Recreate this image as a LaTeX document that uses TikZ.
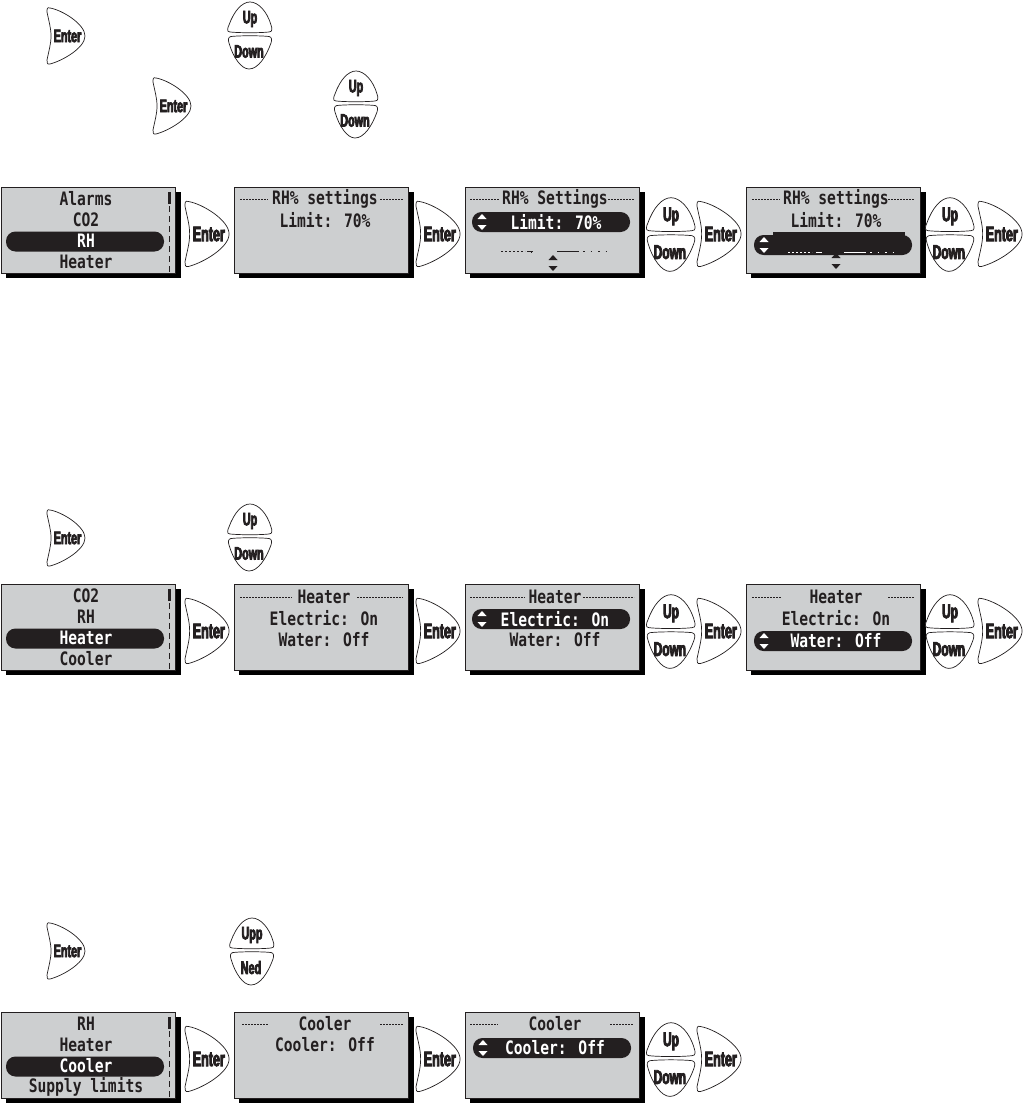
\documentclass[tikz,border=0pt]{standalone}
\usepackage{fontspec}
\newfontfamily\lcdf[FakeStretch=0.79]{DejaVu Sans Mono Bold}
\newfontfamily\btnf[FakeStretch=0.6,FakeBold=4]{Liberation Sans Bold}
\definecolor{lcdgrey}{HTML}{CDCFD0}
\definecolor{inkblack}{HTML}{231F20}
\tikzset{
  lcdtxt/.style={font=\lcdf\fontsize{18.5}{18.5}\selectfont,text=inkblack,inner sep=0pt,anchor=center},
  pilltxt/.style={lcdtxt,text=white},
  btntxt/.style={font=\btnf\fontsize{18}{18}\selectfont,text=inkblack,inner sep=0pt,transform shape,anchor=center},
  btnline/.style={draw=inkblack,fill=white,line width=0.7pt},
  pillbar/.style={fill=inkblack,rounded corners=9.5pt},
  titlerule/.style={draw=inkblack,line width=0.7pt,dash pattern=on 2pt off 1pt},
  scrollrule/.style={draw=inkblack,line width=0.7pt,dash pattern=on 6pt off 4pt},
  wtri/.style={fill=white},
  btri/.style={fill=inkblack},
  frag/.style={draw=inkblack,line width=0.6pt},
  pics/enterbtn/.style={code={
    \path[btnline] (3,28) .. controls (15,26) and (38,12) .. (38,0)
      .. controls (38,-12) and (15,-25) .. (3,-28)
      .. controls (0,-29) and (0,-26) .. (0,-24)
      .. controls (2,-14) and (4,-8) .. (4,0)
      .. controls (4,8) and (2,14) .. (0,24)
      .. controls (0,27) and (0,29) .. (3,28) -- cycle;
    \node[btntxt] (-label) at (20.5,0) {Enter};
  }},
  pics/updownbtn/.style n args={2}{code={
    \path[btnline] (-20,3) .. controls (-24,3) and (-22,8) .. (-21,10)
      .. controls (-16,24) and (-8,33) .. (0,33)
      .. controls (8,33) and (17,24) .. (21,10)
      .. controls (22,7) and (23,3) .. (19,3)
      .. controls (10,2) and (-10,2) .. (-20,3) -- cycle;
    \path[btnline] (-19,-1.5) .. controls (-10,-0.5) and (10,-0.5) .. (19,-1.5)
      .. controls (22,-2) and (22,-5) .. (21,-8)
      .. controls (16,-22) and (8,-34) .. (-1,-34)
      .. controls (-9,-34) and (-17,-22) .. (-21,-8)
      .. controls (-22,-5) and (-22,-2) .. (-19,-1.5) -- cycle;
    \node[btntxt] (-up) at (0,16) {#1};
    \node[btntxt] (-down) at (-1,-16.5) {#2};
  }},
  pics/lcdbox/.style={code={
    \fill[black] (5,-5) rectangle (179.5,-91);
    \path[draw=inkblack,fill=lcdgrey,line width=1pt] (0,0) rectangle (174.5,-86);
  }},
  pics/scrollmark/.style={code={
    \fill[inkblack] (166.5,-5) rectangle (170,-17);
    \draw[scrollrule] (168.5,-19) -- (168.5,-85);
  }},
  pics/pillmark/.style={code={
    \path[pillbar] (0,0) rectangle (158,-20);
    \path[wtri] (5.5,-7) -- (14.5,-7) -- (10,-2) -- cycle;
    \path[wtri] (5.5,-13) -- (14.5,-13) -- (10,-18) -- cycle;
  }},
  pics/plainpill/.style={code={
    \path[pillbar] (0,0) rectangle (158,-20);
  }},
  pics/morearrows/.style={code={
    \path[btri] (-4.5,0) -- (4.5,0) -- (0,5) -- cycle;
    \path[btri] (-4.5,-6) -- (4.5,-6) -- (0,-11) -- cycle;
  }}
}
\begin{document}
\begin{tikzpicture}[x=1pt,y=1pt]
\useasboundingbox (0,-1105) rectangle (1023,0);
\fill[white] (0,-1105) rectangle (1023,0);

% instruction-line buttons
\pic (ta) at (47,-36) {enterbtn};
\pic (tb) at (250,-35) {updownbtn={Up}{Down}};
\pic (tc) at (153,-106) {enterbtn};
\pic (td) at (356,-104) {updownbtn={Up}{Down}};
\pic (te) at (47,-538) {enterbtn};
\pic (tf) at (250,-537) {updownbtn={Up}{Down}};
\pic (tg) at (47,-951) {enterbtn};
\pic (th) at (252,-951) {updownbtn={Upp}{Ned}};

% ---------- row 1 ----------
\begin{scope}[shift={(1,-187)}]
  \pic (s11) at (0,0) {lcdbox};
  \pic (s11s) at (0,0) {scrollmark};
  \pic (s11p) at (5,-44.5) {plainpill};
  \node[lcdtxt] (s11a) at (85,-12) {Alarms};
  \node[lcdtxt] (s11b) at (85,-33) {CO2};
  \node[pilltxt] (s11c) at (85,-54) {RH};
  \node[lcdtxt] (s11d) at (85,-75) {Heater};
\end{scope}
\pic[scale=1.16] (b11) at (185,-234) {enterbtn};
\begin{scope}[shift={(234,-187)}]
  \pic (s12) at (0,0) {lcdbox};
  \node[lcdtxt] (s12a) at (91,-12) {RH\% settings};
  \node[lcdtxt] (s12b) at (91,-33) {Limit: 70\%};
  \draw[titlerule] (6,-12) -- (34,-12);
  \draw[titlerule] (146,-12) -- (169,-12);
\end{scope}
\pic[scale=1.16] (b12) at (416,-234) {enterbtn};
\begin{scope}[shift={(465,-187)}]
  \pic (s13) at (0,0) {lcdbox};
  \pic (s13p) at (7,-25) {pillmark};
  \node[lcdtxt] (s13a) at (90,-12) {RH\% Settings};
  \node[pilltxt] (s13b) at (91,-35) {Limit: 70\%};
  \draw[titlerule] (5,-12) -- (34,-12);
  \draw[titlerule] (143,-12) -- (169,-12);
  \draw[frag,dash pattern=on 2pt off 2pt] (36,-64) -- (60,-64);
  \draw[frag] (66,-64) -- (66,-66);
  \draw[frag] (62,-64) -- (68,-64);
  \draw[frag] (92,-64) -- (114,-64);
  \draw[frag,dash pattern=on 1.5pt off 6pt] (118,-64) -- (146,-64);
  \pic (s13m) at (88,-73) {morearrows};
\end{scope}
\pic[scale=1.1] (b13) at (671,-234) {updownbtn={Up}{Down}};
\pic[scale=1.16] (b14) at (697,-234) {enterbtn};
\begin{scope}[shift={(746,-187)}]
  \pic (s14) at (0,0) {lcdbox};
  \pic (s14p) at (8,-48) {pillmark};
  \fill[inkblack] (27,-45) rectangle (159,-60);
  \node[lcdtxt] (s14a) at (90,-12) {RH\% settings};
  \node[lcdtxt] (s14b) at (90,-33) {Limit: 70\%};
  \draw[titlerule] (6,-12) -- (34,-12);
  \draw[titlerule] (142,-12) -- (168,-12);
  \draw[line width=0.6pt,white,dash pattern=on 2pt off 2pt] (42,-65) -- (66,-65);
  \draw[line width=0.6pt,white] (70,-65) -- (76,-65);
  \draw[line width=0.6pt,white] (98,-65) -- (120,-65);
  \draw[line width=0.6pt,white,dash pattern=on 1.5pt off 6pt] (124,-65) -- (150,-65);
  \pic (s14m) at (90,-71) {morearrows};
\end{scope}
\pic[scale=1.1] (b15) at (950,-234) {updownbtn={Up}{Down}};
\pic[scale=1.16] (b16) at (978,-234) {enterbtn};

% ---------- row 2 ----------
\begin{scope}[shift={(1,-584)}]
  \pic (s21) at (0,0) {lcdbox};
  \pic (s21s) at (0,0) {scrollmark};
  \pic (s21p) at (5,-44.5) {plainpill};
  \node[lcdtxt] (s21a) at (85,-12) {CO2};
  \node[lcdtxt] (s21b) at (85,-33) {RH};
  \node[pilltxt] (s21c) at (85,-54) {Heater};
  \node[lcdtxt] (s21d) at (85,-75) {Cooler};
\end{scope}
\pic[scale=1.16] (b21) at (185,-631) {enterbtn};
\begin{scope}[shift={(234,-584)}]
  \pic (s22) at (0,0) {lcdbox};
  \node[lcdtxt] (s22a) at (90,-13) {Heater};
  \node[lcdtxt] (s22b) at (90,-34) {Electric: On};
  \node[lcdtxt] (s22c) at (90,-56) {Water: Off};
  \draw[titlerule] (6,-13) -- (58,-13);
  \draw[titlerule] (123,-13) -- (169,-13);
\end{scope}
\pic[scale=1.16] (b22) at (416,-631) {enterbtn};
\begin{scope}[shift={(465,-584)}]
  \pic (s23) at (0,0) {lcdbox};
  \pic (s23p) at (7,-25) {pillmark};
  \node[lcdtxt] (s23a) at (90,-13) {Heater};
  \node[pilltxt] (s23b) at (90,-35) {Electric: On};
  \node[lcdtxt] (s23c) at (90,-56) {Water: Off};
  \draw[titlerule] (5,-13) -- (60,-13);
  \draw[titlerule] (118,-13) -- (169,-13);
\end{scope}
\pic[scale=1.1] (b23) at (671,-631) {updownbtn={Up}{Down}};
\pic[scale=1.16] (b24) at (697,-631) {enterbtn};
\begin{scope}[shift={(746,-584)}]
  \pic (s24) at (0,0) {lcdbox};
  \pic (s24p) at (8,-47) {pillmark};
  \node[lcdtxt] (s24a) at (90,-13) {Heater};
  \node[lcdtxt] (s24b) at (90,-34) {Electric: On};
  \node[pilltxt] (s24c) at (90,-57) {Water: Off};
  \draw[titlerule] (6,-13) -- (35,-13);
  \draw[titlerule] (142,-13) -- (168,-13);
\end{scope}
\pic[scale=1.1] (b25) at (950,-631) {updownbtn={Up}{Down}};
\pic[scale=1.16] (b26) at (978,-631) {enterbtn};

% ---------- row 3 ----------
\begin{scope}[shift={(1,-1012)}]
  \pic (s31) at (0,0) {lcdbox};
  \pic (s31s) at (0,0) {scrollmark};
  \pic (s31p) at (5,-44.5) {plainpill};
  \node[lcdtxt] (s31a) at (85,-12) {RH};
  \node[lcdtxt] (s31b) at (85,-33) {Heater};
  \node[pilltxt] (s31c) at (85,-54) {Cooler};
  \node[lcdtxt] (s31d) at (85,-75) {Supply limits};
\end{scope}
\pic[scale=1.16] (b31) at (185,-1059) {enterbtn};
\begin{scope}[shift={(234,-1012)}]
  \pic (s32) at (0,0) {lcdbox};
  \node[lcdtxt] (s32a) at (91,-12) {Cooler};
  \node[lcdtxt] (s32b) at (91,-33) {Cooler: Off};
  \draw[titlerule] (8,-12) -- (34,-12);
  \draw[titlerule] (146,-12) -- (169,-12);
\end{scope}
\pic[scale=1.16] (b32) at (416,-1059) {enterbtn};
\begin{scope}[shift={(465,-1012)}]
  \pic (s33) at (0,0) {lcdbox};
  \pic (s33p) at (8,-26) {pillmark};
  \node[lcdtxt] (s33a) at (90,-12) {Cooler};
  \node[pilltxt] (s33b) at (90,-36) {Cooler: Off};
  \draw[titlerule] (5,-12) -- (33,-12);
  \draw[titlerule] (145,-12) -- (168,-12);
\end{scope}
\pic[scale=1.1] (b33) at (671,-1059) {updownbtn={Up}{Down}};
\pic[scale=1.16] (b34) at (697,-1059) {enterbtn};
\end{tikzpicture}
\end{document}
